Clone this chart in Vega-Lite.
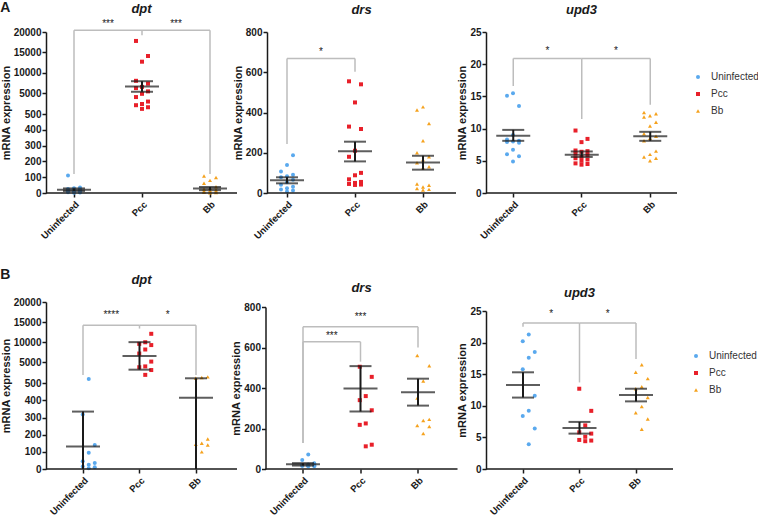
{
"$schema": "https://vega.github.io/schema/vega-lite/v6.json",
"padding": {"left": 0, "top": 0, "right": 0, "bottom": 0},
"datasets": {"d": [
{"p":"Ad","k":"pt","g":"Uninfected","v":110},{"p":"Ad","k":"pt","g":"Uninfected","v":35},{"p":"Ad","k":"pt","g":"Uninfected","v":30},{"p":"Ad","k":"pt","g":"Uninfected","v":25},{"p":"Ad","k":"pt","g":"Uninfected","v":22},{"p":"Ad","k":"pt","g":"Uninfected","v":20},{"p":"Ad","k":"pt","g":"Uninfected","v":18},{"p":"Ad","k":"pt","g":"Uninfected","v":15},{"p":"Ad","k":"pt","g":"Uninfected","v":12},{"p":"Ad","k":"pt","g":"Uninfected","v":10},{"p":"Ad","k":"pt","g":"Uninfected","v":8},{"p":"Ad","k":"pt","g":"Uninfected","v":6},{"p":"Ad","k":"pt","g":"Uninfected","v":5},{"p":"Ad","k":"pt","g":"Uninfected","v":3},{"p":"Ad","k":"pt","g":"Uninfected","v":2},
{"p":"Ad","k":"pt","g":"Pcc","v":17800},{"p":"Ad","k":"pt","g":"Pcc","v":14100},{"p":"Ad","k":"pt","g":"Pcc","v":12700},{"p":"Ad","k":"pt","g":"Pcc","v":8000},{"p":"Ad","k":"pt","g":"Pcc","v":7300},{"p":"Ad","k":"pt","g":"Pcc","v":6500},{"p":"Ad","k":"pt","g":"Pcc","v":6200},{"p":"Ad","k":"pt","g":"Pcc","v":5400},{"p":"Ad","k":"pt","g":"Pcc","v":4800},{"p":"Ad","k":"pt","g":"Pcc","v":4000},{"p":"Ad","k":"pt","g":"Pcc","v":2900},{"p":"Ad","k":"pt","g":"Pcc","v":2300},{"p":"Ad","k":"pt","g":"Pcc","v":2000},{"p":"Ad","k":"pt","g":"Pcc","v":1500},{"p":"Ad","k":"pt","g":"Pcc","v":1100},
{"p":"Ad","k":"pt","g":"Bb","v":108},{"p":"Ad","k":"pt","g":"Bb","v":98},{"p":"Ad","k":"pt","g":"Bb","v":80},{"p":"Ad","k":"pt","g":"Bb","v":62},{"p":"Ad","k":"pt","g":"Bb","v":40},{"p":"Ad","k":"pt","g":"Bb","v":30},{"p":"Ad","k":"pt","g":"Bb","v":25},{"p":"Ad","k":"pt","g":"Bb","v":20},{"p":"Ad","k":"pt","g":"Bb","v":15},{"p":"Ad","k":"pt","g":"Bb","v":12},{"p":"Ad","k":"pt","g":"Bb","v":10},{"p":"Ad","k":"pt","g":"Bb","v":8},{"p":"Ad","k":"pt","g":"Bb","v":5},{"p":"Ad","k":"pt","g":"Bb","v":3},{"p":"Ad","k":"pt","g":"Bb","v":2},
{"p":"Ar","k":"pt","g":"Uninfected","v":188},{"p":"Ar","k":"pt","g":"Uninfected","v":139},{"p":"Ar","k":"pt","g":"Uninfected","v":107},{"p":"Ar","k":"pt","g":"Uninfected","v":91},{"p":"Ar","k":"pt","g":"Uninfected","v":83},{"p":"Ar","k":"pt","g":"Uninfected","v":78},{"p":"Ar","k":"pt","g":"Uninfected","v":66},{"p":"Ar","k":"pt","g":"Uninfected","v":53},{"p":"Ar","k":"pt","g":"Uninfected","v":41},{"p":"Ar","k":"pt","g":"Uninfected","v":31},{"p":"Ar","k":"pt","g":"Uninfected","v":23},{"p":"Ar","k":"pt","g":"Uninfected","v":18},{"p":"Ar","k":"pt","g":"Uninfected","v":12},{"p":"Ar","k":"pt","g":"Uninfected","v":7},
{"p":"Ar","k":"pt","g":"Pcc","v":555},{"p":"Ar","k":"pt","g":"Pcc","v":540},{"p":"Ar","k":"pt","g":"Pcc","v":450},{"p":"Ar","k":"pt","g":"Pcc","v":330},{"p":"Ar","k":"pt","g":"Pcc","v":318},{"p":"Ar","k":"pt","g":"Pcc","v":210},{"p":"Ar","k":"pt","g":"Pcc","v":180},{"p":"Ar","k":"pt","g":"Pcc","v":100},{"p":"Ar","k":"pt","g":"Pcc","v":88},{"p":"Ar","k":"pt","g":"Pcc","v":68},{"p":"Ar","k":"pt","g":"Pcc","v":55},{"p":"Ar","k":"pt","g":"Pcc","v":50},{"p":"Ar","k":"pt","g":"Pcc","v":45},{"p":"Ar","k":"pt","g":"Pcc","v":42},{"p":"Ar","k":"pt","g":"Pcc","v":40},
{"p":"Ar","k":"pt","g":"Bb","v":428},{"p":"Ar","k":"pt","g":"Bb","v":412},{"p":"Ar","k":"pt","g":"Bb","v":345},{"p":"Ar","k":"pt","g":"Bb","v":260},{"p":"Ar","k":"pt","g":"Bb","v":200},{"p":"Ar","k":"pt","g":"Bb","v":180},{"p":"Ar","k":"pt","g":"Bb","v":165},{"p":"Ar","k":"pt","g":"Bb","v":150},{"p":"Ar","k":"pt","g":"Bb","v":130},{"p":"Ar","k":"pt","g":"Bb","v":125},{"p":"Ar","k":"pt","g":"Bb","v":45},{"p":"Ar","k":"pt","g":"Bb","v":38},{"p":"Ar","k":"pt","g":"Bb","v":30},{"p":"Ar","k":"pt","g":"Bb","v":22},{"p":"Ar","k":"pt","g":"Bb","v":18},{"p":"Ar","k":"pt","g":"Bb","v":15},
{"p":"Au","k":"pt","g":"Uninfected","v":15.5},{"p":"Au","k":"pt","g":"Uninfected","v":15.1},{"p":"Au","k":"pt","g":"Uninfected","v":13.5},{"p":"Au","k":"pt","g":"Uninfected","v":9.0},{"p":"Au","k":"pt","g":"Uninfected","v":8.3},{"p":"Au","k":"pt","g":"Uninfected","v":8.1},{"p":"Au","k":"pt","g":"Uninfected","v":8.0},{"p":"Au","k":"pt","g":"Uninfected","v":7.9},{"p":"Au","k":"pt","g":"Uninfected","v":7.8},{"p":"Au","k":"pt","g":"Uninfected","v":6.7},{"p":"Au","k":"pt","g":"Uninfected","v":6.0},{"p":"Au","k":"pt","g":"Uninfected","v":5.7},{"p":"Au","k":"pt","g":"Uninfected","v":4.9},
{"p":"Au","k":"pt","g":"Pcc","v":9.7},{"p":"Au","k":"pt","g":"Pcc","v":8.4},{"p":"Au","k":"pt","g":"Pcc","v":7.9},{"p":"Au","k":"pt","g":"Pcc","v":6.6},{"p":"Au","k":"pt","g":"Pcc","v":6.5},{"p":"Au","k":"pt","g":"Pcc","v":6.4},{"p":"Au","k":"pt","g":"Pcc","v":6.1},{"p":"Au","k":"pt","g":"Pcc","v":5.9},{"p":"Au","k":"pt","g":"Pcc","v":5.6},{"p":"Au","k":"pt","g":"Pcc","v":5.4},{"p":"Au","k":"pt","g":"Pcc","v":5.2},{"p":"Au","k":"pt","g":"Pcc","v":5.0},{"p":"Au","k":"pt","g":"Pcc","v":4.6},{"p":"Au","k":"pt","g":"Pcc","v":4.5},{"p":"Au","k":"pt","g":"Pcc","v":4.4},
{"p":"Au","k":"pt","g":"Bb","v":12.5},{"p":"Au","k":"pt","g":"Bb","v":12.3},{"p":"Au","k":"pt","g":"Bb","v":12.0},{"p":"Au","k":"pt","g":"Bb","v":11.8},{"p":"Au","k":"pt","g":"Bb","v":11.0},{"p":"Au","k":"pt","g":"Bb","v":10.4},{"p":"Au","k":"pt","g":"Bb","v":9.2},{"p":"Au","k":"pt","g":"Bb","v":8.8},{"p":"Au","k":"pt","g":"Bb","v":8.5},{"p":"Au","k":"pt","g":"Bb","v":8.1},{"p":"Au","k":"pt","g":"Bb","v":6.5},{"p":"Au","k":"pt","g":"Bb","v":6.0},{"p":"Au","k":"pt","g":"Bb","v":5.6},{"p":"Au","k":"pt","g":"Bb","v":5.4},{"p":"Au","k":"pt","g":"Bb","v":5.0},
{"p":"Bd","k":"pt","g":"Uninfected","v":850},{"p":"Bd","k":"pt","g":"Uninfected","v":318},{"p":"Bd","k":"pt","g":"Uninfected","v":140},{"p":"Bd","k":"pt","g":"Uninfected","v":95},{"p":"Bd","k":"pt","g":"Uninfected","v":45},{"p":"Bd","k":"pt","g":"Uninfected","v":35},{"p":"Bd","k":"pt","g":"Uninfected","v":25},{"p":"Bd","k":"pt","g":"Uninfected","v":15},{"p":"Bd","k":"pt","g":"Uninfected","v":10},{"p":"Bd","k":"pt","g":"Uninfected","v":5},
{"p":"Bd","k":"pt","g":"Pcc","v":12100},{"p":"Bd","k":"pt","g":"Pcc","v":10000},{"p":"Bd","k":"pt","g":"Pcc","v":9600},{"p":"Bd","k":"pt","g":"Pcc","v":9300},{"p":"Bd","k":"pt","g":"Pcc","v":8200},{"p":"Bd","k":"pt","g":"Pcc","v":7200},{"p":"Bd","k":"pt","g":"Pcc","v":5200},{"p":"Bd","k":"pt","g":"Pcc","v":4000},{"p":"Bd","k":"pt","g":"Pcc","v":3800},{"p":"Bd","k":"pt","g":"Pcc","v":3100},{"p":"Bd","k":"pt","g":"Pcc","v":1900},
{"p":"Bd","k":"pt","g":"Bb","v":1400},{"p":"Bd","k":"pt","g":"Bb","v":1250},{"p":"Bd","k":"pt","g":"Bb","v":1050},{"p":"Bd","k":"pt","g":"Bb","v":175},{"p":"Bd","k":"pt","g":"Bb","v":150},{"p":"Bd","k":"pt","g":"Bb","v":145},{"p":"Bd","k":"pt","g":"Bb","v":140},{"p":"Bd","k":"pt","g":"Bb","v":100},
{"p":"Br","k":"pt","g":"Uninfected","v":72},{"p":"Br","k":"pt","g":"Uninfected","v":45},{"p":"Br","k":"pt","g":"Uninfected","v":28},{"p":"Br","k":"pt","g":"Uninfected","v":22},{"p":"Br","k":"pt","g":"Uninfected","v":20},{"p":"Br","k":"pt","g":"Uninfected","v":18},{"p":"Br","k":"pt","g":"Uninfected","v":16},{"p":"Br","k":"pt","g":"Uninfected","v":15},{"p":"Br","k":"pt","g":"Uninfected","v":14},{"p":"Br","k":"pt","g":"Uninfected","v":13},
{"p":"Br","k":"pt","g":"Pcc","v":505},{"p":"Br","k":"pt","g":"Pcc","v":455},{"p":"Br","k":"pt","g":"Pcc","v":360},{"p":"Br","k":"pt","g":"Pcc","v":340},{"p":"Br","k":"pt","g":"Pcc","v":290},{"p":"Br","k":"pt","g":"Pcc","v":225},{"p":"Br","k":"pt","g":"Pcc","v":218},{"p":"Br","k":"pt","g":"Pcc","v":120},{"p":"Br","k":"pt","g":"Pcc","v":112},
{"p":"Br","k":"pt","g":"Bb","v":560},{"p":"Br","k":"pt","g":"Bb","v":510},{"p":"Br","k":"pt","g":"Bb","v":435},{"p":"Br","k":"pt","g":"Bb","v":350},{"p":"Br","k":"pt","g":"Bb","v":245},{"p":"Br","k":"pt","g":"Bb","v":240},{"p":"Br","k":"pt","g":"Bb","v":215},{"p":"Br","k":"pt","g":"Bb","v":210},{"p":"Br","k":"pt","g":"Bb","v":175},
{"p":"Bu","k":"pt","g":"Uninfected","v":21.3},{"p":"Bu","k":"pt","g":"Uninfected","v":20.2},{"p":"Bu","k":"pt","g":"Uninfected","v":18.5},{"p":"Bu","k":"pt","g":"Uninfected","v":17.6},{"p":"Bu","k":"pt","g":"Uninfected","v":15.8},{"p":"Bu","k":"pt","g":"Uninfected","v":11.6},{"p":"Bu","k":"pt","g":"Uninfected","v":9.2},{"p":"Bu","k":"pt","g":"Uninfected","v":8.4},{"p":"Bu","k":"pt","g":"Uninfected","v":6.4},{"p":"Bu","k":"pt","g":"Uninfected","v":3.9},
{"p":"Bu","k":"pt","g":"Pcc","v":12.7},{"p":"Bu","k":"pt","g":"Pcc","v":9.2},{"p":"Bu","k":"pt","g":"Pcc","v":6.9},{"p":"Bu","k":"pt","g":"Pcc","v":5.8},{"p":"Bu","k":"pt","g":"Pcc","v":5.6},{"p":"Bu","k":"pt","g":"Pcc","v":5.1},{"p":"Bu","k":"pt","g":"Pcc","v":4.6},{"p":"Bu","k":"pt","g":"Pcc","v":4.5},{"p":"Bu","k":"pt","g":"Pcc","v":4.4},
{"p":"Bu","k":"pt","g":"Bb","v":16.5},{"p":"Bu","k":"pt","g":"Bb","v":15.3},{"p":"Bu","k":"pt","g":"Bb","v":14.3},{"p":"Bu","k":"pt","g":"Bb","v":13.0},{"p":"Bu","k":"pt","g":"Bb","v":12.7},{"p":"Bu","k":"pt","g":"Bb","v":11.3},{"p":"Bu","k":"pt","g":"Bb","v":9.9},{"p":"Bu","k":"pt","g":"Bb","v":8.9},{"p":"Bu","k":"pt","g":"Bb","v":7.9},{"p":"Bu","k":"pt","g":"Bb","v":6.3},
{"p":"Ad","k":"m","g":"Uninfected","v":21},{"p":"Ad","k":"e","g":"Uninfected","v":13,"v2":29},{"p":"Ad","k":"m","g":"Pcc","v":6600},{"p":"Ad","k":"e","g":"Pcc","v":5300,"v2":7900},{"p":"Ad","k":"m","g":"Bb","v":28},{"p":"Ad","k":"e","g":"Bb","v":18,"v2":38},
{"p":"Ar","k":"m","g":"Uninfected","v":63},{"p":"Ar","k":"e","g":"Uninfected","v":48,"v2":78},{"p":"Ar","k":"m","g":"Pcc","v":207},{"p":"Ar","k":"e","g":"Pcc","v":157,"v2":255},{"p":"Ar","k":"m","g":"Bb","v":152},{"p":"Ar","k":"e","g":"Bb","v":116,"v2":185},
{"p":"Au","k":"m","g":"Uninfected","v":8.9},{"p":"Au","k":"e","g":"Uninfected","v":8.1,"v2":9.8},{"p":"Au","k":"m","g":"Pcc","v":5.95},{"p":"Au","k":"e","g":"Pcc","v":5.6,"v2":6.45},{"p":"Au","k":"m","g":"Bb","v":8.8},{"p":"Au","k":"e","g":"Bb","v":8.1,"v2":9.5},
{"p":"Bd","k":"m","g":"Uninfected","v":132},{"p":"Bd","k":"e","g":"Uninfected","v":0,"v2":335},{"p":"Bd","k":"m","g":"Pcc","v":6570},{"p":"Bd","k":"e","g":"Pcc","v":3190,"v2":10030},{"p":"Bd","k":"m","g":"Bb","v":415},{"p":"Bd","k":"e","g":"Bb","v":0,"v2":1050},
{"p":"Br","k":"m","g":"Uninfected","v":23},{"p":"Br","k":"e","g":"Uninfected","v":17,"v2":29},{"p":"Br","k":"m","g":"Pcc","v":397},{"p":"Br","k":"e","g":"Pcc","v":284,"v2":508},{"p":"Br","k":"m","g":"Bb","v":379},{"p":"Br","k":"e","g":"Bb","v":313,"v2":446},
{"p":"Bu","k":"m","g":"Uninfected","v":13.3},{"p":"Bu","k":"e","g":"Uninfected","v":11.3,"v2":15.3},{"p":"Bu","k":"m","g":"Pcc","v":6.5},{"p":"Bu","k":"e","g":"Pcc","v":5.6,"v2":7.45},{"p":"Bu","k":"m","g":"Bb","v":11.7},{"p":"Bu","k":"e","g":"Bb","v":10.7,"v2":12.7},
{"p":"Ad","k":"h","g":"Uninfected","g2":"Pcc","v":20400},{"p":"Ad","k":"h","g":"Pcc","g2":"Bb","v":20400},{"p":"Ad","k":"l","g":"Uninfected","v":20400,"v2":120},{"p":"Ad","k":"l","g":"Pcc","v":20400,"v2":19200},{"p":"Ad","k":"l","g":"Bb","v":20400,"v2":120},{"p":"Ad","k":"s","g":"Pcc","at":"L","t":"***","v":22000},{"p":"Ad","k":"s","g":"Pcc","at":"R","t":"***","v":22000},
{"p":"Ar","k":"h","g":"Uninfected","g2":"Pcc","v":668},{"p":"Ar","k":"l","g":"Uninfected","v":668,"v2":243},{"p":"Ar","k":"l","g":"Pcc","v":668,"v2":602},{"p":"Ar","k":"s","g":"Pcc","at":"L","t":"*","v":702},
{"p":"Au","k":"h","g":"Uninfected","g2":"Pcc","v":20.9},{"p":"Au","k":"h","g":"Pcc","g2":"Bb","v":20.9},{"p":"Au","k":"l","g":"Uninfected","v":20.9,"v2":16.6},{"p":"Au","k":"l","g":"Pcc","v":20.9,"v2":11.5},{"p":"Au","k":"l","g":"Bb","v":20.9,"v2":13.7},{"p":"Au","k":"s","g":"Pcc","at":"L","t":"*","v":22.0},{"p":"Au","k":"s","g":"Pcc","at":"R","t":"*","v":22.0},
{"p":"Bd","k":"h","g":"Uninfected","g2":"Pcc","v":14230},{"p":"Bd","k":"h","g":"Pcc","g2":"Bb","v":14230},{"p":"Bd","k":"l","g":"Uninfected","v":14230,"v2":1870},{"p":"Bd","k":"l","g":"Pcc","v":14230,"v2":13400},{"p":"Bd","k":"l","g":"Bb","v":14230,"v2":1870},{"p":"Bd","k":"s","g":"Pcc","at":"L","t":"****","v":16870},{"p":"Bd","k":"s","g":"Pcc","at":"R","t":"*","v":16870},
{"p":"Br","k":"h","g":"Uninfected","g2":"Pcc","v":628},{"p":"Br","k":"l","g":"Uninfected","v":628,"v2":128},{"p":"Br","k":"l","g":"Pcc","v":628,"v2":530},{"p":"Br","k":"s","g":"Pcc","at":"L","t":"***","v":656},{"p":"Br","k":"h","g":"Uninfected","g2":"Bb","v":702},{"p":"Br","k":"l","g":"Uninfected","v":702,"v2":128},{"p":"Br","k":"l","g":"Bb","v":702,"v2":600},{"p":"Br","k":"s","g":"Pcc","at":"M","t":"***","v":751},
{"p":"Bu","k":"h","g":"Uninfected","g2":"Pcc","v":23.1},{"p":"Bu","k":"h","g":"Pcc","g2":"Bb","v":23.1},{"p":"Bu","k":"l","g":"Uninfected","v":23.1,"v2":22.5},{"p":"Bu","k":"l","g":"Pcc","v":23.1,"v2":13.7},{"p":"Bu","k":"l","g":"Bb","v":23.1,"v2":17.4},{"p":"Bu","k":"s","g":"Pcc","at":"L","t":"*","v":24.5},{"p":"Bu","k":"s","g":"Pcc","at":"R","t":"*","v":24.5}
]},
"data": {"name": "d"},
"config": {
  "font": "Liberation Sans",
  "view": {"stroke": null},
  "axis": {"grid": false, "domainColor": "#1a1a1a", "domainWidth": 1.5, "tickColor": "#1a1a1a", "tickWidth": 1.5, "tickSize": 4, "labelFontSize": 10, "labelFontWeight": "bold", "labelColor": "#1a1a1a", "labelPadding": 1, "labelOverlap": false, "titleFontSize": 11, "titleFontWeight": "bold", "titleColor": "#1a1a1a", "titlePadding": 2},
  "axisX": {"labelAngle": -45, "labelPadding": 2, "labelFontSize": 9.5, "domain": false},
  "axisY": {"format": "d"},
  "title": {"fontSize": 13, "fontWeight": "bold", "fontStyle": "italic", "color": "#1a1a1a", "offset": 3},
  "legend": {"labelFontSize": 10, "labelColor": "#333333", "symbolSize": 16, "rowPadding": 7, "labelOffset": 8, "padding": 0}
},
"resolve": {"scale": {"color": "independent", "shape": "independent"}},
"spacing": 27,
"vconcat": [
{"title": {"text": "A", "anchor": "start", "frame": "bounds", "fontSize": 14, "fontStyle": "normal", "offset": -12},
 "bounds": "flush", "spacing": 30,
 "hconcat": [
  {"width": 191, "height": 161, "title": "dpt",
   "encoding": {"y": {"field": "v", "type": "quantitative", "title": "mRNA expression", "scale": {"domain": [0,500,501,20000], "range": [161,82,79.3,0], "nice": false, "zero": false}, "axis": {"values": [0,100,200,300,400,500,5000,10000,15000,20000]}}},
   "layer": [
    {"transform": [{"filter": "datum.p=='Ad' && datum.k=='h'"}], "mark": {"type": "rule", "color": "#bdbdbd", "strokeWidth": 1.5}, "encoding": {"x": {"field": "g", "type": "nominal", "title": null, "bandPosition": 0.5}, "x2": {"field": "g2", "bandPosition": 0.5}}},
    {"transform": [{"filter": "datum.p=='Ad' && datum.k=='l'"}], "mark": {"type": "rule", "color": "#bdbdbd", "strokeWidth": 1.5}, "encoding": {"x": {"field": "g", "type": "nominal", "title": null}, "y2": {"field": "v2"}}},
    {"transform": [{"filter": "datum.p=='Ad' && datum.k=='s' && datum.at=='L'"}], "mark": {"type": "text", "fontSize": 10, "baseline": "middle", "color": "#1a1a1a"}, "encoding": {"x": {"field": "g", "type": "nominal", "title": null, "bandPosition": 0}, "text": {"field": "t"}}},
    {"transform": [{"filter": "datum.p=='Ad' && datum.k=='s' && datum.at=='R'"}], "mark": {"type": "text", "fontSize": 10, "baseline": "middle", "color": "#1a1a1a"}, "encoding": {"x": {"field": "g", "type": "nominal", "title": null, "bandPosition": 1}, "text": {"field": "t"}}},
    {"transform": [{"filter": "datum.p=='Ad' && datum.k=='pt'"}, {"window": [{"op": "row_number", "as": "rn"}], "groupby": ["g"], "sort": [{"field": "v", "order": "ascending"}]}, {"calculate": "datum.rn % 3", "as": "j"}],
     "mark": {"type": "point", "filled": true, "size": 16, "opacity": 1},
     "encoding": {"x": {"field": "g", "type": "nominal", "title": null, "scale": {"domain": ["Uninfected","Pcc","Bb"], "range": [-6, 198], "paddingInner": 0, "paddingOuter": 0}},
      "xOffset": {"field": "j", "type": "nominal", "scale": {"range": [25, 43]}},
      "color": {"field": "g", "type": "nominal", "title": null, "scale": {"domain": ["Uninfected","Pcc","Bb"], "range": ["#5aa9ee","#e8202a","#f5a21e"]}, "legend": {"orient": "none", "legendX": 647, "legendY": 40}},
      "shape": {"field": "g", "type": "nominal", "title": null, "scale": {"domain": ["Uninfected","Pcc","Bb"], "range": ["circle","square","triangle-up"]}, "legend": {"orient": "none", "legendX": 647, "legendY": 40}}}},
    {"transform": [{"filter": "datum.p=='Ad' && datum.k=='e'"}], "mark": {"type": "rule", "color": "#1a1a1a", "strokeWidth": 2}, "encoding": {"x": {"field": "g", "type": "nominal", "title": null}, "y2": {"field": "v2"}}},
    {"transform": [{"filter": "datum.p=='Ad' && datum.k=='m'"}], "mark": {"type": "tick", "color": "#1a1a1a", "size": 34, "thickness": 2}, "encoding": {"x": {"field": "g", "type": "nominal", "title": null}}},
    {"transform": [{"filter": "datum.p=='Ad' && datum.k=='e' && datum.v>0"}], "mark": {"type": "tick", "color": "#1a1a1a", "size": 22, "thickness": 2}, "encoding": {"x": {"field": "g", "type": "nominal", "title": null}}},
    {"transform": [{"filter": "datum.p=='Ad' && datum.k=='e'"}], "mark": {"type": "tick", "color": "#1a1a1a", "size": 22, "thickness": 2}, "encoding": {"x": {"field": "g", "type": "nominal", "title": null}, "y": {"field": "v2", "type": "quantitative", "title": "mRNA expression"}}},
    {"transform": [{"filter": "datum.p=='Ad' && datum.k=='m' && datum.g=='Pcc'"}], "mark": {"type": "rule", "color": "#1a1a1a", "strokeWidth": 1.5}, "encoding": {"y": {"datum": 0, "type": "quantitative", "title": "mRNA expression"}}}
   ]},
  {"width": 189, "height": 161, "title": {"text": "drs", "offset": 10},
   "encoding": {"y": {"field": "v", "type": "quantitative", "title": "mRNA expression", "scale": {"domain": [0,800], "nice": false, "zero": false}, "axis": {"values": [0,200,400,600,800]}}},
   "layer": [
    {"transform": [{"filter": "datum.p=='Ar' && datum.k=='h'"}], "mark": {"type": "rule", "color": "#bdbdbd", "strokeWidth": 1.5}, "encoding": {"x": {"field": "g", "type": "nominal", "title": null, "bandPosition": 0.5}, "x2": {"field": "g2", "bandPosition": 0.5}}},
    {"transform": [{"filter": "datum.p=='Ar' && datum.k=='l'"}], "mark": {"type": "rule", "color": "#bdbdbd", "strokeWidth": 1.5}, "encoding": {"x": {"field": "g", "type": "nominal", "title": null}, "y2": {"field": "v2"}}},
    {"transform": [{"filter": "datum.p=='Ar' && datum.k=='s' && datum.at=='L'"}], "mark": {"type": "text", "fontSize": 10, "baseline": "middle", "color": "#1a1a1a"}, "encoding": {"x": {"field": "g", "type": "nominal", "title": null, "bandPosition": 0}, "text": {"field": "t"}}},
    {"transform": [{"filter": "datum.p=='Ar' && datum.k=='pt'"}, {"window": [{"op": "row_number", "as": "rn"}], "groupby": ["g"], "sort": [{"field": "v", "order": "ascending"}]}, {"calculate": "datum.rn % 3", "as": "j"}],
     "mark": {"type": "point", "filled": true, "size": 16, "opacity": 1},
     "encoding": {"x": {"field": "g", "type": "nominal", "title": null, "scale": {"domain": ["Uninfected","Pcc","Bb"], "range": [-14, 190], "paddingInner": 0, "paddingOuter": 0}},
      "xOffset": {"field": "j", "type": "nominal", "scale": {"range": [25, 43]}},
      "color": {"field": "g", "type": "nominal", "title": null, "scale": {"domain": ["Uninfected","Pcc","Bb"], "range": ["#5aa9ee","#e8202a","#f5a21e"]}, "legend": {"orient": "none", "legendX": 647, "legendY": 40}},
      "shape": {"field": "g", "type": "nominal", "title": null, "scale": {"domain": ["Uninfected","Pcc","Bb"], "range": ["circle","square","triangle-up"]}, "legend": {"orient": "none", "legendX": 647, "legendY": 40}}}},
    {"transform": [{"filter": "datum.p=='Ar' && datum.k=='e'"}], "mark": {"type": "rule", "color": "#1a1a1a", "strokeWidth": 2}, "encoding": {"x": {"field": "g", "type": "nominal", "title": null}, "y2": {"field": "v2"}}},
    {"transform": [{"filter": "datum.p=='Ar' && datum.k=='m'"}], "mark": {"type": "tick", "color": "#1a1a1a", "size": 34, "thickness": 2}, "encoding": {"x": {"field": "g", "type": "nominal", "title": null}}},
    {"transform": [{"filter": "datum.p=='Ar' && datum.k=='e' && datum.v>0"}], "mark": {"type": "tick", "color": "#1a1a1a", "size": 22, "thickness": 2}, "encoding": {"x": {"field": "g", "type": "nominal", "title": null}}},
    {"transform": [{"filter": "datum.p=='Ar' && datum.k=='e'"}], "mark": {"type": "tick", "color": "#1a1a1a", "size": 22, "thickness": 2}, "encoding": {"x": {"field": "g", "type": "nominal", "title": null}, "y": {"field": "v2", "type": "quantitative", "title": "mRNA expression"}}},
    {"transform": [{"filter": "datum.p=='Ar' && datum.k=='m' && datum.g=='Pcc'"}], "mark": {"type": "rule", "color": "#1a1a1a", "strokeWidth": 1.5}, "encoding": {"y": {"datum": 0, "type": "quantitative", "title": "mRNA expression"}}}
   ]},
  {"width": 191, "height": 161, "title": {"text": "upd3", "offset": 10},
   "encoding": {"y": {"field": "v", "type": "quantitative", "title": "mRNA expression", "scale": {"domain": [0,25], "nice": false, "zero": false}, "axis": {"values": [0,5,10,15,20,25]}}},
   "layer": [
    {"transform": [{"filter": "datum.p=='Au' && datum.k=='h'"}], "mark": {"type": "rule", "color": "#bdbdbd", "strokeWidth": 1.5}, "encoding": {"x": {"field": "g", "type": "nominal", "title": null, "bandPosition": 0.5}, "x2": {"field": "g2", "bandPosition": 0.5}}},
    {"transform": [{"filter": "datum.p=='Au' && datum.k=='l'"}], "mark": {"type": "rule", "color": "#bdbdbd", "strokeWidth": 1.5}, "encoding": {"x": {"field": "g", "type": "nominal", "title": null}, "y2": {"field": "v2"}}},
    {"transform": [{"filter": "datum.p=='Au' && datum.k=='s' && datum.at=='L'"}], "mark": {"type": "text", "fontSize": 10, "baseline": "middle", "color": "#1a1a1a"}, "encoding": {"x": {"field": "g", "type": "nominal", "title": null, "bandPosition": 0}, "text": {"field": "t"}}},
    {"transform": [{"filter": "datum.p=='Au' && datum.k=='s' && datum.at=='R'"}], "mark": {"type": "text", "fontSize": 10, "baseline": "middle", "color": "#1a1a1a"}, "encoding": {"x": {"field": "g", "type": "nominal", "title": null, "bandPosition": 1}, "text": {"field": "t"}}},
    {"transform": [{"filter": "datum.p=='Au' && datum.k=='pt'"}, {"window": [{"op": "row_number", "as": "rn"}], "groupby": ["g"], "sort": [{"field": "v", "order": "ascending"}]}, {"calculate": "datum.rn % 3", "as": "j"}],
     "mark": {"type": "point", "filled": true, "size": 16, "opacity": 1},
     "encoding": {"x": {"field": "g", "type": "nominal", "title": null, "scale": {"domain": ["Uninfected","Pcc","Bb"], "range": [-7, 198.5], "paddingInner": 0, "paddingOuter": 0}},
      "xOffset": {"field": "j", "type": "nominal", "scale": {"range": [25, 43]}},
      "color": {"field": "g", "type": "nominal", "title": null, "scale": {"domain": ["Uninfected","Pcc","Bb"], "range": ["#5aa9ee","#e8202a","#f5a21e"]}, "legend": {"orient": "none", "legendX": 647, "legendY": 40}},
      "shape": {"field": "g", "type": "nominal", "title": null, "scale": {"domain": ["Uninfected","Pcc","Bb"], "range": ["circle","square","triangle-up"]}, "legend": {"orient": "none", "legendX": 647, "legendY": 40}}}},
    {"transform": [{"filter": "datum.p=='Au' && datum.k=='e'"}], "mark": {"type": "rule", "color": "#1a1a1a", "strokeWidth": 2}, "encoding": {"x": {"field": "g", "type": "nominal", "title": null}, "y2": {"field": "v2"}}},
    {"transform": [{"filter": "datum.p=='Au' && datum.k=='m'"}], "mark": {"type": "tick", "color": "#1a1a1a", "size": 34, "thickness": 2}, "encoding": {"x": {"field": "g", "type": "nominal", "title": null}}},
    {"transform": [{"filter": "datum.p=='Au' && datum.k=='e' && datum.v>0"}], "mark": {"type": "tick", "color": "#1a1a1a", "size": 22, "thickness": 2}, "encoding": {"x": {"field": "g", "type": "nominal", "title": null}}},
    {"transform": [{"filter": "datum.p=='Au' && datum.k=='e'"}], "mark": {"type": "tick", "color": "#1a1a1a", "size": 22, "thickness": 2}, "encoding": {"x": {"field": "g", "type": "nominal", "title": null}, "y": {"field": "v2", "type": "quantitative", "title": "mRNA expression"}}},
    {"transform": [{"filter": "datum.p=='Au' && datum.k=='m' && datum.g=='Pcc'"}], "mark": {"type": "rule", "color": "#1a1a1a", "strokeWidth": 1.5}, "encoding": {"y": {"datum": 0, "type": "quantitative", "title": "mRNA expression"}}}
   ]}
 ]},
{"title": {"text": "B", "anchor": "start", "frame": "bounds", "fontSize": 14, "fontStyle": "normal", "offset": -8},
 "bounds": "flush", "spacing": 28.5,
 "hconcat": [
  {"width": 191, "height": 167, "title": {"text": "dpt", "offset": 10},
   "encoding": {"y": {"field": "v", "type": "quantitative", "title": "mRNA expression", "scale": {"domain": [0,500,501,20000], "range": [167,81.3,78.5,0], "nice": false, "zero": false}, "axis": {"values": [0,100,200,300,400,500,5000,10000,15000,20000]}}},
   "layer": [
    {"transform": [{"filter": "datum.p=='Bd' && datum.k=='h'"}], "mark": {"type": "rule", "color": "#bdbdbd", "strokeWidth": 1.5}, "encoding": {"x": {"field": "g", "type": "nominal", "title": null, "bandPosition": 0.5}, "x2": {"field": "g2", "bandPosition": 0.5}}},
    {"transform": [{"filter": "datum.p=='Bd' && datum.k=='l'"}], "mark": {"type": "rule", "color": "#bdbdbd", "strokeWidth": 1.5}, "encoding": {"x": {"field": "g", "type": "nominal", "title": null}, "y2": {"field": "v2"}}},
    {"transform": [{"filter": "datum.p=='Bd' && datum.k=='s' && datum.at=='L'"}], "mark": {"type": "text", "fontSize": 10, "baseline": "middle", "color": "#1a1a1a"}, "encoding": {"x": {"field": "g", "type": "nominal", "title": null, "bandPosition": 0}, "text": {"field": "t"}}},
    {"transform": [{"filter": "datum.p=='Bd' && datum.k=='s' && datum.at=='R'"}], "mark": {"type": "text", "fontSize": 10, "baseline": "middle", "color": "#1a1a1a"}, "encoding": {"x": {"field": "g", "type": "nominal", "title": null, "bandPosition": 1}, "text": {"field": "t"}}},
    {"transform": [{"filter": "datum.p=='Bd' && datum.k=='pt'"}, {"window": [{"op": "row_number", "as": "rn"}], "groupby": ["g"], "sort": [{"field": "v", "order": "ascending"}]}, {"calculate": "datum.rn % 3", "as": "j"}],
     "mark": {"type": "point", "filled": true, "size": 16, "opacity": 1},
     "encoding": {"x": {"field": "g", "type": "nominal", "title": null, "scale": {"domain": ["Uninfected","Pcc","Bb"], "range": [8.75, 178.25], "paddingInner": 0, "paddingOuter": 0}},
      "xOffset": {"field": "j", "type": "nominal", "scale": {"range": [19.5, 37]}},
      "color": {"field": "g", "type": "nominal", "title": null, "scale": {"domain": ["Uninfected","Pcc","Bb"], "range": ["#5aa9ee","#e8202a","#f5a21e"]}, "legend": {"orient": "none", "legendX": 645, "legendY": 49}},
      "shape": {"field": "g", "type": "nominal", "title": null, "scale": {"domain": ["Uninfected","Pcc","Bb"], "range": ["circle","square","triangle-up"]}, "legend": {"orient": "none", "legendX": 645, "legendY": 49}}}},
    {"transform": [{"filter": "datum.p=='Bd' && datum.k=='e'"}], "mark": {"type": "rule", "color": "#1a1a1a", "strokeWidth": 2}, "encoding": {"x": {"field": "g", "type": "nominal", "title": null}, "y2": {"field": "v2"}}},
    {"transform": [{"filter": "datum.p=='Bd' && datum.k=='m'"}], "mark": {"type": "tick", "color": "#1a1a1a", "size": 34, "thickness": 2}, "encoding": {"x": {"field": "g", "type": "nominal", "title": null}}},
    {"transform": [{"filter": "datum.p=='Bd' && datum.k=='e' && datum.v>0"}], "mark": {"type": "tick", "color": "#1a1a1a", "size": 22, "thickness": 2}, "encoding": {"x": {"field": "g", "type": "nominal", "title": null}}},
    {"transform": [{"filter": "datum.p=='Bd' && datum.k=='e'"}], "mark": {"type": "tick", "color": "#1a1a1a", "size": 22, "thickness": 2}, "encoding": {"x": {"field": "g", "type": "nominal", "title": null}, "y": {"field": "v2", "type": "quantitative", "title": "mRNA expression"}}},
    {"transform": [{"filter": "datum.p=='Bd' && datum.k=='m' && datum.g=='Pcc'"}], "mark": {"type": "rule", "color": "#1a1a1a", "strokeWidth": 1.5}, "encoding": {"y": {"datum": 0, "type": "quantitative", "title": "mRNA expression"}}}
   ]},
  {"width": 192, "height": 167, "title": {"text": "drs", "offset": 7},
   "encoding": {"y": {"field": "v", "type": "quantitative", "title": "mRNA expression", "scale": {"domain": [0,800], "range": [167,5], "nice": false, "zero": false}, "axis": {"values": [0,200,400,600,800]}}},
   "layer": [
    {"transform": [{"filter": "datum.p=='Br' && datum.k=='h'"}], "mark": {"type": "rule", "color": "#bdbdbd", "strokeWidth": 1.5}, "encoding": {"x": {"field": "g", "type": "nominal", "title": null, "bandPosition": 0.5}, "x2": {"field": "g2", "bandPosition": 0.5}}},
    {"transform": [{"filter": "datum.p=='Br' && datum.k=='l'"}], "mark": {"type": "rule", "color": "#bdbdbd", "strokeWidth": 1.5}, "encoding": {"x": {"field": "g", "type": "nominal", "title": null}, "y2": {"field": "v2"}}},
    {"transform": [{"filter": "datum.p=='Br' && datum.k=='s' && datum.at=='L'"}], "mark": {"type": "text", "fontSize": 10, "baseline": "middle", "color": "#1a1a1a"}, "encoding": {"x": {"field": "g", "type": "nominal", "title": null, "bandPosition": 0}, "text": {"field": "t"}}},
    {"transform": [{"filter": "datum.p=='Br' && datum.k=='s' && datum.at=='M'"}], "mark": {"type": "text", "fontSize": 10, "baseline": "middle", "color": "#1a1a1a"}, "encoding": {"x": {"field": "g", "type": "nominal", "title": null, "bandPosition": 0.5}, "text": {"field": "t"}}},
    {"transform": [{"filter": "datum.p=='Br' && datum.k=='pt'"}, {"window": [{"op": "row_number", "as": "rn"}], "groupby": ["g"], "sort": [{"field": "v", "order": "ascending"}]}, {"calculate": "datum.rn % 3", "as": "j"}],
     "mark": {"type": "point", "filled": true, "size": 16, "opacity": 1},
     "encoding": {"x": {"field": "g", "type": "nominal", "title": null, "scale": {"domain": ["Uninfected","Pcc","Bb"], "range": [8.75, 181.25], "paddingInner": 0, "paddingOuter": 0}},
      "xOffset": {"field": "j", "type": "nominal", "scale": {"range": [20, 37.5]}},
      "color": {"field": "g", "type": "nominal", "title": null, "scale": {"domain": ["Uninfected","Pcc","Bb"], "range": ["#5aa9ee","#e8202a","#f5a21e"]}, "legend": {"orient": "none", "legendX": 645, "legendY": 49}},
      "shape": {"field": "g", "type": "nominal", "title": null, "scale": {"domain": ["Uninfected","Pcc","Bb"], "range": ["circle","square","triangle-up"]}, "legend": {"orient": "none", "legendX": 645, "legendY": 49}}}},
    {"transform": [{"filter": "datum.p=='Br' && datum.k=='e'"}], "mark": {"type": "rule", "color": "#1a1a1a", "strokeWidth": 2}, "encoding": {"x": {"field": "g", "type": "nominal", "title": null}, "y2": {"field": "v2"}}},
    {"transform": [{"filter": "datum.p=='Br' && datum.k=='m'"}], "mark": {"type": "tick", "color": "#1a1a1a", "size": 34, "thickness": 2}, "encoding": {"x": {"field": "g", "type": "nominal", "title": null}}},
    {"transform": [{"filter": "datum.p=='Br' && datum.k=='e' && datum.v>0"}], "mark": {"type": "tick", "color": "#1a1a1a", "size": 22, "thickness": 2}, "encoding": {"x": {"field": "g", "type": "nominal", "title": null}}},
    {"transform": [{"filter": "datum.p=='Br' && datum.k=='e'"}], "mark": {"type": "tick", "color": "#1a1a1a", "size": 22, "thickness": 2}, "encoding": {"x": {"field": "g", "type": "nominal", "title": null}, "y": {"field": "v2", "type": "quantitative", "title": "mRNA expression"}}},
    {"transform": [{"filter": "datum.p=='Br' && datum.k=='m' && datum.g=='Pcc'"}], "mark": {"type": "rule", "color": "#1a1a1a", "strokeWidth": 1.5}, "encoding": {"y": {"datum": 0, "type": "quantitative", "title": "mRNA expression"}}}
   ]},
  {"width": 187, "height": 167, "title": {"text": "upd3", "offset": 2},
   "encoding": {"y": {"field": "v", "type": "quantitative", "title": "mRNA expression", "scale": {"domain": [0,25], "range": [167,9], "nice": false, "zero": false}, "axis": {"values": [0,5,10,15,20,25]}}},
   "layer": [
    {"transform": [{"filter": "datum.p=='Bu' && datum.k=='h'"}], "mark": {"type": "rule", "color": "#bdbdbd", "strokeWidth": 1.5}, "encoding": {"x": {"field": "g", "type": "nominal", "title": null, "bandPosition": 0.5}, "x2": {"field": "g2", "bandPosition": 0.5}}},
    {"transform": [{"filter": "datum.p=='Bu' && datum.k=='l'"}], "mark": {"type": "rule", "color": "#bdbdbd", "strokeWidth": 1.5}, "encoding": {"x": {"field": "g", "type": "nominal", "title": null}, "y2": {"field": "v2"}}},
    {"transform": [{"filter": "datum.p=='Bu' && datum.k=='s' && datum.at=='L'"}], "mark": {"type": "text", "fontSize": 10, "baseline": "middle", "color": "#1a1a1a"}, "encoding": {"x": {"field": "g", "type": "nominal", "title": null, "bandPosition": 0}, "text": {"field": "t"}}},
    {"transform": [{"filter": "datum.p=='Bu' && datum.k=='s' && datum.at=='R'"}], "mark": {"type": "text", "fontSize": 10, "baseline": "middle", "color": "#1a1a1a"}, "encoding": {"x": {"field": "g", "type": "nominal", "title": null, "bandPosition": 1}, "text": {"field": "t"}}},
    {"transform": [{"filter": "datum.p=='Bu' && datum.k=='pt'"}, {"window": [{"op": "row_number", "as": "rn"}], "groupby": ["g"], "sort": [{"field": "v", "order": "ascending"}]}, {"calculate": "datum.rn % 3", "as": "j"}],
     "mark": {"type": "point", "filled": true, "size": 16, "opacity": 1},
     "encoding": {"x": {"field": "g", "type": "nominal", "title": null, "scale": {"domain": ["Uninfected","Pcc","Bb"], "range": [8.75, 178.25], "paddingInner": 0, "paddingOuter": 0}},
      "xOffset": {"field": "j", "type": "nominal", "scale": {"range": [19.5, 37]}},
      "color": {"field": "g", "type": "nominal", "title": null, "scale": {"domain": ["Uninfected","Pcc","Bb"], "range": ["#5aa9ee","#e8202a","#f5a21e"]}, "legend": {"orient": "none", "legendX": 645, "legendY": 49}},
      "shape": {"field": "g", "type": "nominal", "title": null, "scale": {"domain": ["Uninfected","Pcc","Bb"], "range": ["circle","square","triangle-up"]}, "legend": {"orient": "none", "legendX": 645, "legendY": 49}}}},
    {"transform": [{"filter": "datum.p=='Bu' && datum.k=='e'"}], "mark": {"type": "rule", "color": "#1a1a1a", "strokeWidth": 2}, "encoding": {"x": {"field": "g", "type": "nominal", "title": null}, "y2": {"field": "v2"}}},
    {"transform": [{"filter": "datum.p=='Bu' && datum.k=='m'"}], "mark": {"type": "tick", "color": "#1a1a1a", "size": 34, "thickness": 2}, "encoding": {"x": {"field": "g", "type": "nominal", "title": null}}},
    {"transform": [{"filter": "datum.p=='Bu' && datum.k=='e' && datum.v>0"}], "mark": {"type": "tick", "color": "#1a1a1a", "size": 22, "thickness": 2}, "encoding": {"x": {"field": "g", "type": "nominal", "title": null}}},
    {"transform": [{"filter": "datum.p=='Bu' && datum.k=='e'"}], "mark": {"type": "tick", "color": "#1a1a1a", "size": 22, "thickness": 2}, "encoding": {"x": {"field": "g", "type": "nominal", "title": null}, "y": {"field": "v2", "type": "quantitative", "title": "mRNA expression"}}},
    {"transform": [{"filter": "datum.p=='Bu' && datum.k=='m' && datum.g=='Pcc'"}], "mark": {"type": "rule", "color": "#1a1a1a", "strokeWidth": 1.5}, "encoding": {"y": {"datum": 0, "type": "quantitative", "title": "mRNA expression"}}}
   ]}
 ]}
]
}
